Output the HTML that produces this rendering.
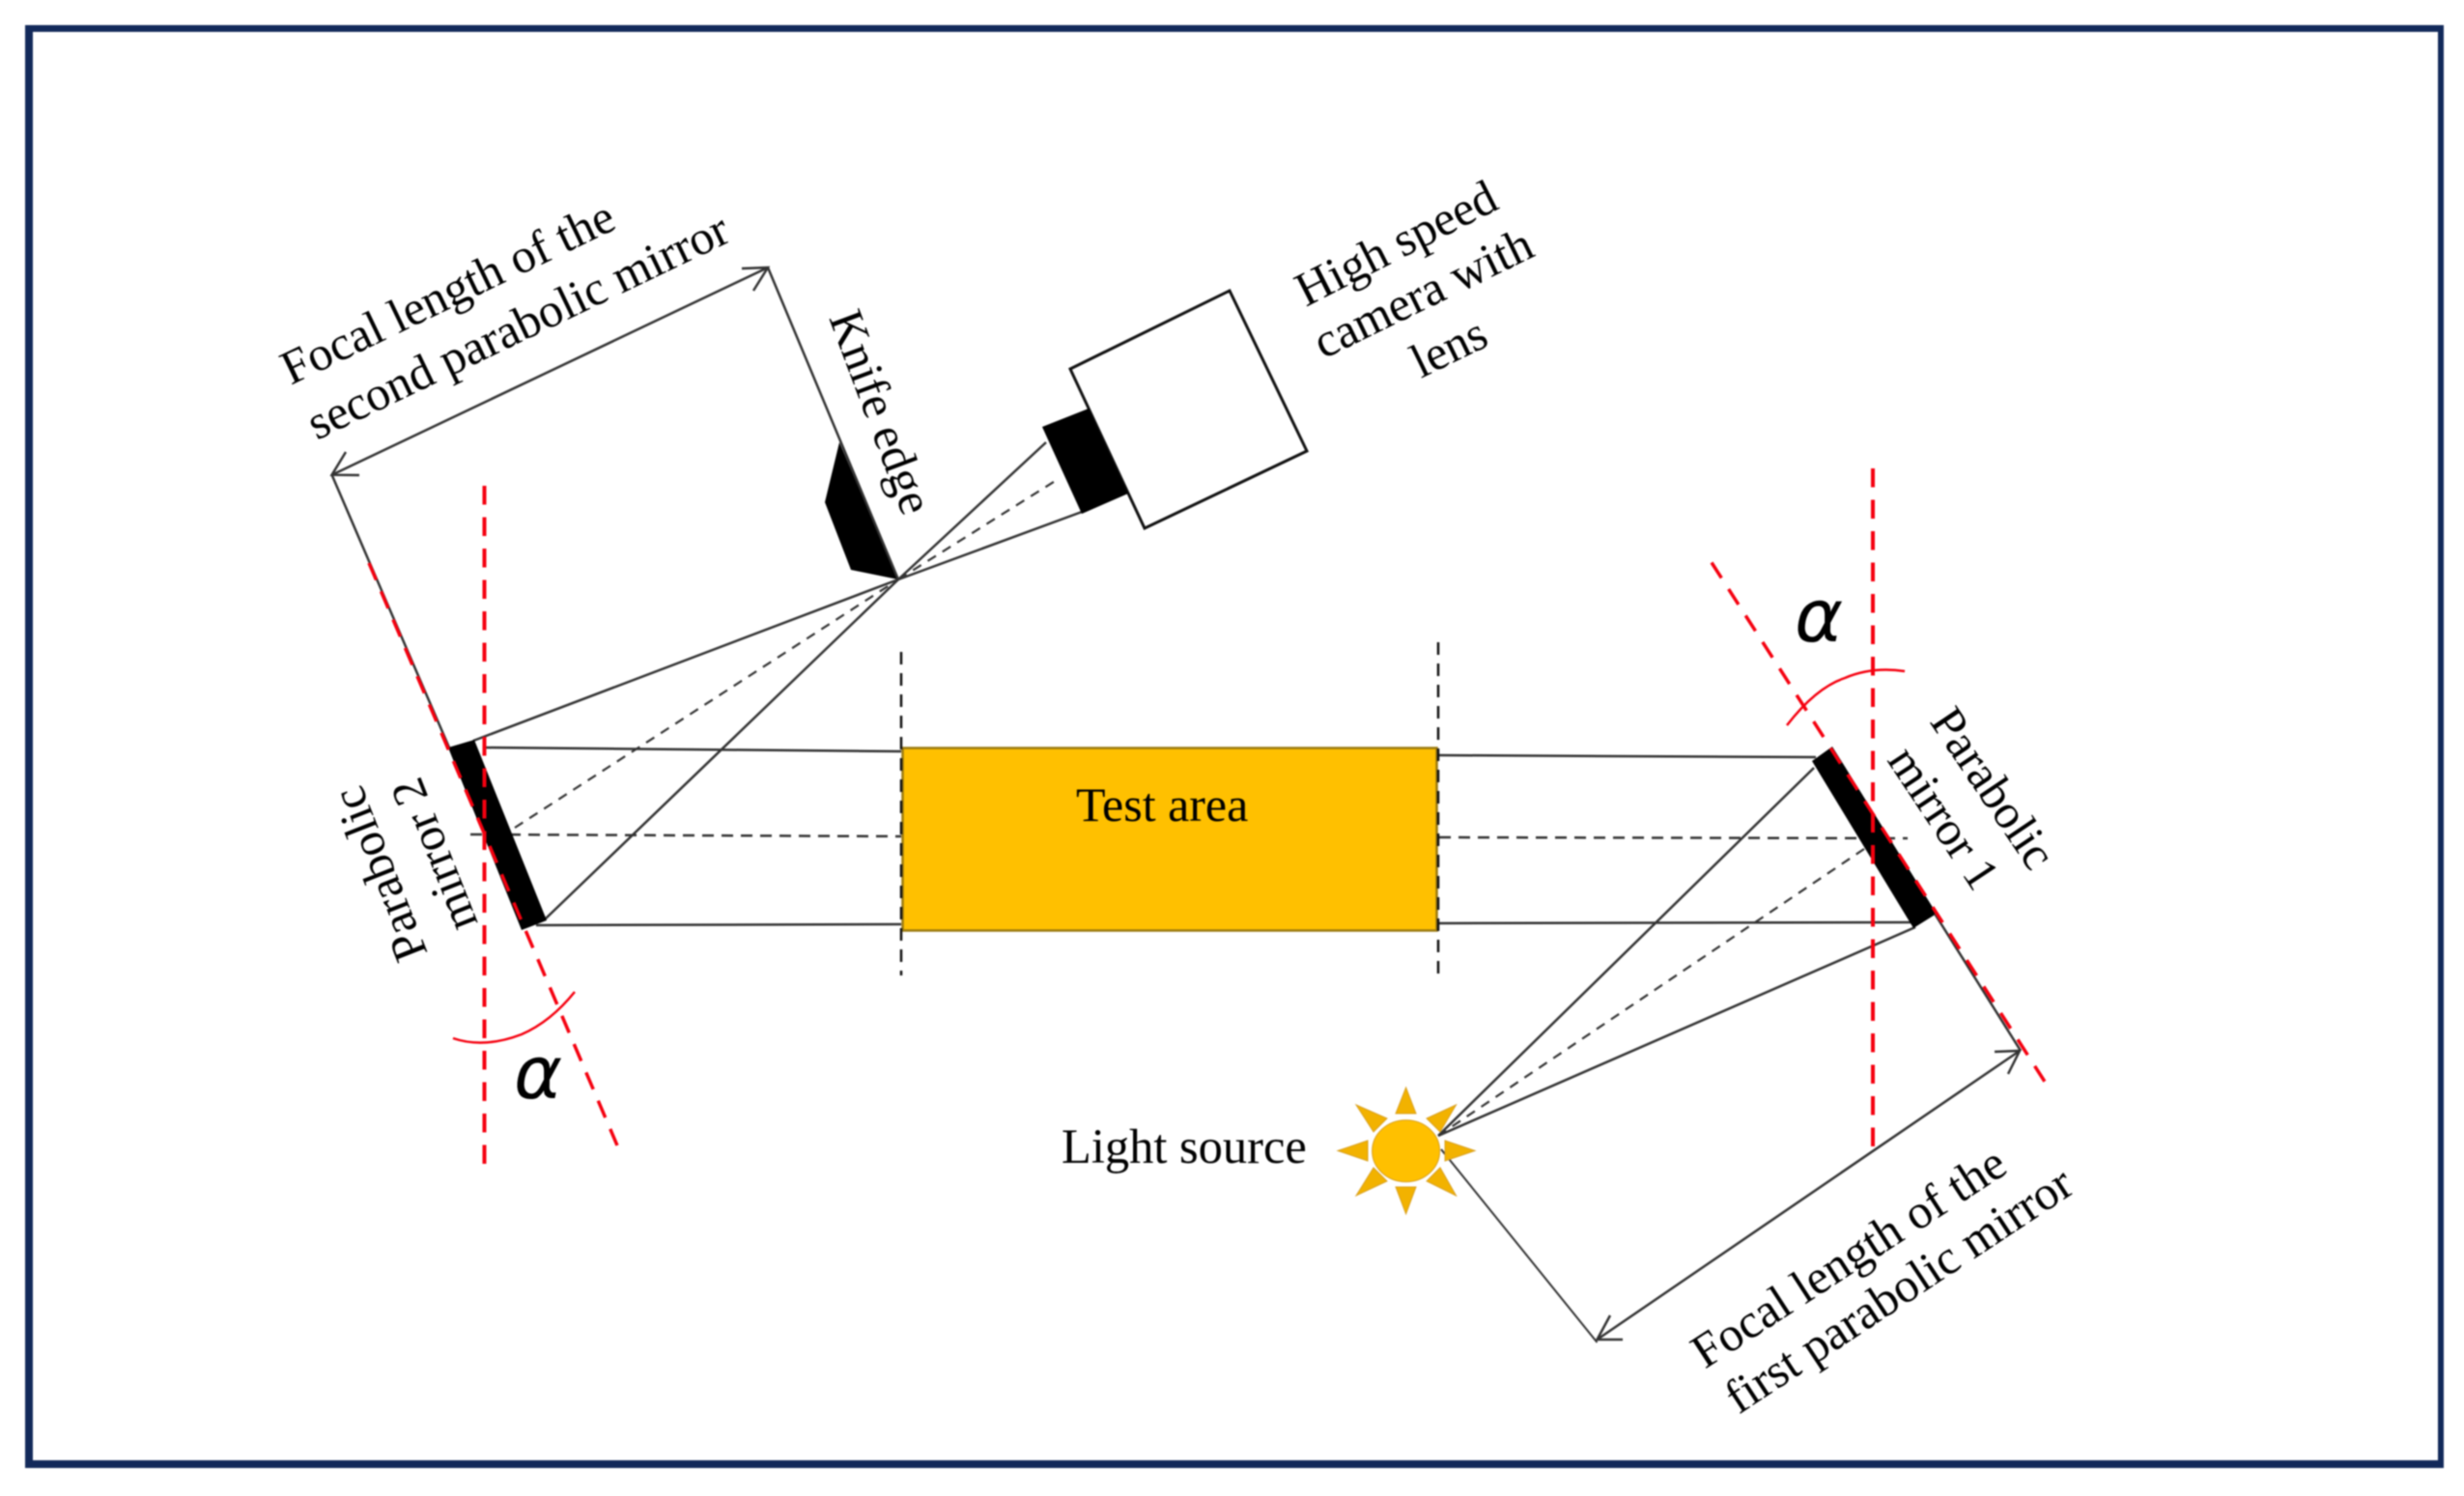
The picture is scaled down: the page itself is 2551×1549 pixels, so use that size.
<!DOCTYPE html>
<html><head><meta charset="utf-8"><style>
html,body{margin:0;padding:0;background:#fff}
svg{display:block;filter:blur(0.7px)}
text{font-family:"Liberation Serif",serif;font-size:50px;fill:#000}
</style></head><body>
<svg width="2551" height="1549" viewBox="0 0 2551 1549" xmlns="http://www.w3.org/2000/svg">
<rect width="2551" height="1549" fill="#fff"/>
<g fill="#12295a">
<rect x="26" y="26" width="8" height="1494"/>
<rect x="2524" y="26" width="6" height="1494"/>
<rect x="26" y="26" width="2504" height="7"/>
<rect x="26" y="1512" width="2504" height="8"/>
</g>

<!-- Beam lines -->
<g stroke="#333" stroke-width="2.5" fill="none">
<path d="M500 774L933 778"/>
<path d="M555 958L933 957"/>
<path d="M1490 782L1880 784"/>
<path d="M1490 956L1983 955"/>
<path d="M490 767L930 600"/>
<path d="M564 952L930 600"/>
<path d="M930 600L1083 458"/>
<path d="M930 600L1120 530"/>
<path d="M1878 795L1489 1176"/>
<path d="M1983 960L1489 1176"/>
</g>
<g stroke="#333" stroke-width="2.5" fill="none" stroke-dasharray="12 8">
<path d="M487 864L933 866"/>
<path d="M1490 867L1975 868"/>
</g>
<g stroke="#333" stroke-width="2.2" fill="none" stroke-dasharray="10 8">
<path d="M533 857L930 600"/>
<path d="M930 600L1094 497"/>
<path d="M1930 879L1489 1176"/>
</g>

<!-- Test area -->
<rect x="934.5" y="774.5" width="553" height="189" fill="#FFC000" stroke="#9b7a10" stroke-width="2.5"/>
<g stroke="#111" stroke-width="2.5" fill="none" stroke-dasharray="13 9">
<path d="M933 675V1010"/>
<path d="M1489 665V1016"/>
</g>

<!-- Mirrors -->
<polygon points="464,774 491,766 566,953 540,963" fill="#000"/>
<polygon points="1876,788 1897,773 2005,946 1981,961" fill="#000"/>

<!-- Knife -->
<polygon points="869,458 854,520 881,590 930,600" fill="#000"/>

<!-- Camera -->
<polygon points="1108,382 1273,301 1353,467 1185,547" fill="#fff" stroke="#111" stroke-width="3"/>
<polygon points="1079,442 1127,423 1168,511 1120,532" fill="#000"/>

<!-- Focal length arrows -->
<g stroke="#333" stroke-width="2.5" fill="none">
<path d="M343.6 491.7L795 277"/>
<path d="M768 278L795 277L780 301"/>
<path d="M372 492L343.6 491.7L358 468"/>
<path d="M795 277L930 600"/>
<path d="M343.6 491.7L465 774"/>
<path d="M1653.5 1387L2091 1088"/>
<path d="M2065 1089L2091 1088L2079 1112"/>
<path d="M1680 1387L1653.5 1387L1667 1362"/>
<path d="M2003 946L2092 1088"/>
<path d="M1492 1190L1653.5 1390" stroke-width="2"/>
</g>

<!-- Red lines -->
<g stroke="#f5000f" fill="none">
<path d="M501.5 503V1205" stroke-width="4" stroke-dasharray="19.5 13"/>
<path d="M1939 485V1188" stroke-width="4" stroke-dasharray="19.5 13"/>
<path d="M382 583L639 1186" stroke-width="3.5" stroke-dasharray="19 12.85"/>
<path d="M1772 582.5L2117 1120" stroke-width="3.5" stroke-dasharray="19 13.6"/>
<path d="M469 1075Q501 1086 540 1071Q570 1058 595 1027" stroke-width="2.5"/>
<path d="M1850 751Q1880 712 1910 702Q1938 690 1972 695" stroke-width="2.5"/>
</g>

<!-- Sun -->
<g fill="#F2B200" stroke="#d9a020" stroke-width="1">
<polygon points="1455.6,1126 1445,1153 1466,1153"/>
<polygon points="1455.6,1257 1445,1229 1466,1229"/>
<polygon points="1385,1191.5 1416,1181 1416,1202"/>
<polygon points="1527,1191.5 1496,1181 1496,1202"/>
<polygon points="1404,1144 1422,1172 1436,1158"/>
<polygon points="1507.5,1144 1477,1158 1491,1172"/>
<polygon points="1404,1238 1422,1209 1436,1223"/>
<polygon points="1507.5,1238 1477,1223 1491,1209"/>
<ellipse cx="1455.6" cy="1191.7" rx="35" ry="32" fill="#FFC000" stroke="#d9a020"/>
</g>

<!-- Labels -->
<text transform="translate(301 399) rotate(-25.7)">Focal length of the</text>
<text transform="translate(328 456) rotate(-25.7)">second parabolic mirror</text>
<text transform="translate(858 329) rotate(69.5)">Knife edge</text>
<text transform="translate(1352 318) rotate(-27)">High speed</text>
<text transform="translate(1370 372) rotate(-26)">camera with</text>
<text transform="translate(1471 392) rotate(-26)">lens</text>
<text transform="translate(443 987) rotate(-111.5)">Parabolic</text>
<text transform="translate(495 956) rotate(-111.5)">mirror 2</text>
<text transform="translate(1997 747) rotate(56)">Parabolic</text>
<text transform="translate(1953 787) rotate(56.5)">mirror 1</text>
<text x="1114" y="850">Test area</text>
<text x="1099" y="1204" style="font-size:50.5px">Light source</text>
<text transform="translate(1765 1418) rotate(-33)">Focal length of the</text>
<text transform="translate(1800 1465) rotate(-33.5)">first parabolic mirror</text>

<text x="532" y="1137" style="font-family:'DejaVu Sans',sans-serif;font-size:76px;font-style:italic">α</text>
<text x="1858" y="664" style="font-family:'DejaVu Sans',sans-serif;font-size:76px;font-style:italic">α</text>
</svg>
</body></html>
